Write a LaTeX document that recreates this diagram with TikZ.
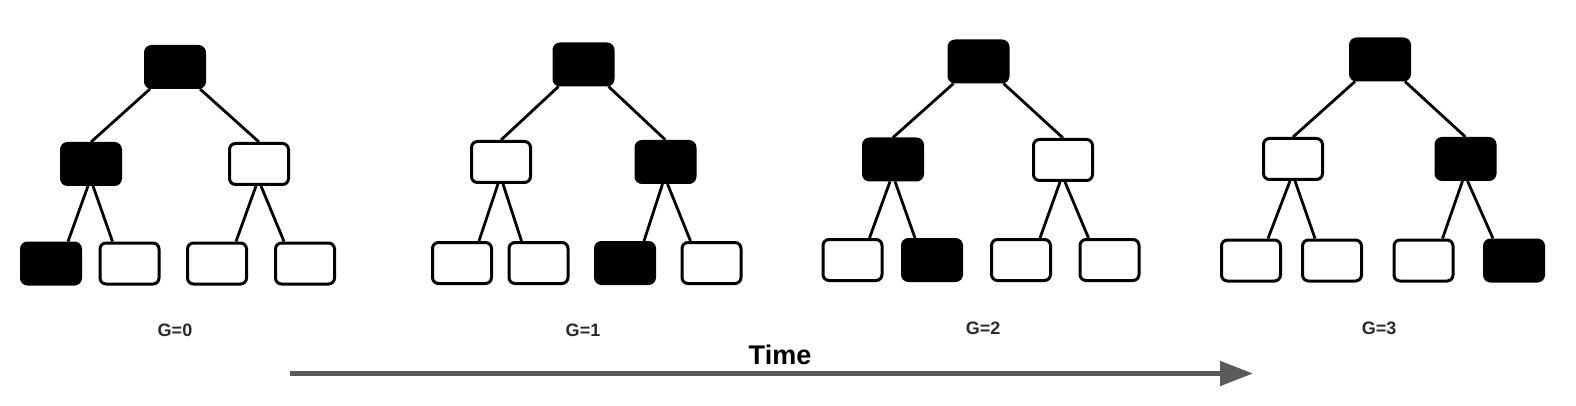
\documentclass[tikz,border=0pt]{standalone}
\usepackage{fontspec}
\setmainfont{Liberation Sans}
\usetikzlibrary{arrows.meta}
\definecolor{arrowgray}{HTML}{5A5A5A}
\definecolor{labelgray}{HTML}{2A2A2A}
\begin{document}
\begin{tikzpicture}[x=1pt,y=-1pt,
 box/.style={draw=black,line width=3pt,rounded corners=6pt,minimum width=59pt,minimum height=41pt,inner sep=0pt},
 bn/.style={box,fill=black},
 wn/.style={box,fill=white},
 edge/.style={line width=2.8pt,black},
 glabel/.style={font=\bfseries\fontsize{18}{18}\selectfont,text=labelgray},
 timelabel/.style={font=\bfseries\fontsize{27}{27}\selectfont,text=black},
 timearrow/.style={line width=5pt,draw=arrowgray,-{Triangle[length=33pt,width=24pt]}}]
\fill[white] (0,0) rectangle (1576,406);
% Tree G=0
\node[bn] (a0) at (175,67) {};
\node[bn] (a1) at (91,164) {};
\node[wn] (a2) at (259,164) {};
\node[bn] (a3) at (51,263.5) {};
\node[wn] (a4) at (129.5,263.5) {};
\node[wn] (a5) at (217,263.5) {};
\node[wn] (a6) at (305,263.5) {};
% Tree G=1
\node[bn] (b0) at (583.5,64.5) {};
\node[wn] (b1) at (501,162) {};
\node[bn] (b2) at (665.5,162) {};
\node[wn] (b3) at (462,263) {};
\node[wn] (b4) at (538.5,263) {};
\node[bn] (b5) at (625,263) {};
\node[wn] (b6) at (711.5,263) {};
% Tree G=2
\node[bn] (c0) at (978.5,61.5) {};
\node[bn] (c1) at (893,159.5) {};
\node[wn] (c2) at (1063,160) {};
\node[wn] (c3) at (852.5,260) {};
\node[bn] (c4) at (932,260) {};
\node[wn] (c5) at (1021,260) {};
\node[wn] (c6) at (1109.5,260) {};
% Tree G=3
\node[bn] (d0) at (1380,59.5) {};
\node[wn] (d1) at (1293,159) {};
\node[bn] (d2) at (1465.5,159) {};
\node[wn] (d3) at (1251,260.5) {};
\node[wn] (d4) at (1332,260.5) {};
\node[wn] (d5) at (1423.5,260.5) {};
\node[bn] (d6) at (1514,260.5) {};
\foreach \tr in {a,b,c,d}{
 \draw[edge] ([xshift=-25pt]\tr0.south) -- (\tr1.north);
 \draw[edge] ([xshift=25pt]\tr0.south) -- (\tr2.north);
 \draw[edge] ([xshift=-3pt]\tr1.south) -- ([xshift=17pt]\tr3.north);
 \draw[edge] ([xshift=2pt]\tr1.south) -- ([xshift=-17pt]\tr4.north);
 \draw[edge] ([xshift=-3pt]\tr2.south) -- ([xshift=19pt]\tr5.north);
 \draw[edge] ([xshift=2pt]\tr2.south) -- ([xshift=-21pt]\tr6.north);
}
\node[glabel] (g0) at (175,330) {G=0};
\node[glabel] (g1) at (583,330) {G=1};
\node[glabel] (g2) at (983,328) {G=2};
\node[glabel] (g3) at (1379,328) {G=3};
\node[timelabel] (time) at (780,355) {Time};
\coordinate (ts) at (290,373.5);
\coordinate (te) at (1253,373.5);
\draw[timearrow] (ts) -- (te);
\end{tikzpicture}
\end{document}
